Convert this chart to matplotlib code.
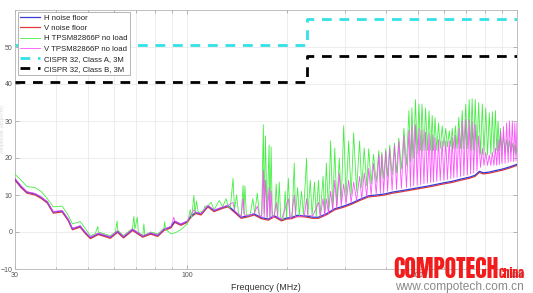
import matplotlib
matplotlib.use("Agg")
import matplotlib.pyplot as plt
from matplotlib.ticker import FixedLocator, FixedFormatter, NullFormatter

# ---------------- data (MHz, dBuV/m) ----------------
h_floor_f = [30, 31.3, 32.6, 34.5, 36, 37.6, 39.2, 41.7, 43.5, 44.8, 47.3, 49, 50.8, 53.7, 56, 58.4,
             61.4, 64, 68.2, 73.2, 77.4, 81.3, 84.9, 89.1, 91.5, 95.5, 100, 102.5, 106, 110, 115.5,
             120.5, 128, 133, 138.6, 145.6, 153, 159.5, 167.5, 176, 183.5, 193, 200, 207, 215, 226.5,
             240, 250, 265, 280, 298, 315, 333, 355, 375, 397, 420, 448, 475, 504, 535, 564, 600,
             636, 675, 716, 745, 769, 790, 824, 860, 903, 950, 1000]
h_floor_db = [14.3, 12.3, 10.8, 10.3, 9.4, 8.1, 5.4, 5.7, 3.4, 0.9, 1.6, -0.1, -1.5, -0.4, -0.9, -1.4,
              0.2, -1.3, 0.7, -1.1, -0.3, -0.9, 0.7, 1.4, 2.9, 2.1, 2.9, 4.3, 5.3, 4.9, 7.1,
              5.8, 6.7, 7.1, 5.7, 4.0, 4.4, 4.9, 3.9, 3.5, 4.4, 3.3, 3.8, 3.9, 4.5, 4.4,
              4.0, 4.0, 5.0, 6.3, 7.0, 7.8, 8.8, 9.8, 10.0, 10.3, 10.8, 11.2, 11.6, 12.0, 12.4, 12.8, 13.3,
              13.7, 14.3, 14.8, 15.3, 16.4, 16.0, 16.2, 16.6, 17.0, 17.6, 18.3]

v_floor_f = [30, 31.3, 32.6, 34.5, 36, 37.6, 39.2, 41.7, 43.5, 44.8, 47.3, 49, 50.8, 53.7, 56, 58.4,
             61.4, 64, 68.2, 73.2, 77.4, 81.3, 84.9, 89.1, 91.5, 95.5, 100, 102.5, 106, 110, 115.5,
             120.5, 128, 133, 138.6, 145.6, 153, 159.5, 167.5, 176, 183.5, 193, 200, 207, 215, 226.5,
             240, 250, 265, 280, 298, 315, 333, 355, 375, 397, 420, 448, 475, 504, 535, 564, 600,
             636, 675, 716, 745, 769, 790, 824, 860, 903, 950, 1000]
v_floor_db = [14.0, 12.0, 10.5, 10.0, 9.1, 7.8, 5.1, 5.4, 3.1, 0.6, 1.3, -0.4, -1.8, -0.7, -1.2, -1.7,
              -0.1, -1.6, 0.4, -1.4, -0.6, -1.2, 0.4, 1.1, 2.6, 1.8, 2.6, 4.0, 5.0, 4.6, 6.8,
              5.5, 6.4, 6.8, 5.4, 3.7, 4.1, 4.6, 3.6, 3.2, 4.1, 3.0, 3.5, 3.6, 4.2, 4.1,
              3.7, 3.7, 4.7, 6.0, 6.7, 7.5, 8.5, 9.5, 9.7, 10.0, 10.5, 10.9, 11.3, 11.7, 12.1, 12.5, 13.0,
              13.4, 14.0, 14.5, 15.0, 16.1, 15.7, 15.9, 16.3, 16.7, 17.3, 18.0]

h_load_f = [30, 31.3, 32.6, 34.5, 36, 37.6, 39.2, 41.7, 43.5, 44.8, 47.3, 49, 50.8, 52.5, 53.5, 53.7,
            56, 58.4, 60.5, 61.2, 61.5, 64, 66, 68.2, 68.8, 69.3, 70.5, 71, 73.2, 73.8, 74.3, 77.4,
            81.3, 84.9, 85.4, 85.8, 89.1, 92, 95.5, 98,
            100, 102, 103, 104.7, 105.5, 106.5, 108, 112, 113, 115.5, 118, 120.5, 125, 128, 131, 133,
            135, 137.6, 139, 141, 143, 145.6, 147.6, 148.3, 149.5, 151, 155, 158, 160, 163, 165.5,
            168, 170, 171, 172.5, 174.5, 177, 178, 179.5, 181, 184, 186, 188, 190, 192, 196, 198,
            200, 202.5, 205, 208, 211, 213, 216, 218.5, 222, 225, 230, 232, 236, 239, 243, 246,
            250, 253, 258, 261, 264, 268, 272, 276, 280, 284, 289, 293, 298, 303, 308.5, 314,
            319.5, 326, 333, 338, 344, 350, 355, 361, 367, 374, 381, 385, 389, 394, 400, 405,
            411, 418, 425, 431, 438, 446, 454, 462, 470, 475, 480, 486, 492, 498, 504, 510,
            515, 522, 528, 535, 541, 547, 553, 558, 564, 571, 578, 585, 593, 600, 608, 615,
            623, 630, 636, 643, 650, 658, 666, 674, 682, 690, 699, 707, 716, 723, 731, 739,
            747, 756, 765, 775, 785, 794, 804, 814, 824, 833, 842, 851, 860, 868, 876, 884,
            891, 900, 910, 920, 930, 940, 949, 958, 968, 977, 985, 993, 1000]
h_load_db = [15.6, 14.0, 12.3, 12.0, 11.0, 9.0, 6.8, 7.0, 4.5, 2.2, 2.8, 1.0, -1.0, -0.5, 1.5, 0.0,
             -0.5, -1.0, 0.0, 3.0, 0.5, -1.0, 0.0, 1.0, 4.2, 0.8, 4.0, 0.0, -1.0, 2.2, -0.8, 0.0,
             -0.5, 1.0, 2.8, 0.8, -0.5, -0.2, 0.6, 1.5,
             2.2, 6.0, 3.8, 9.9, 5.0, 8.4, 5.2, 5.8, 7.0, 7.0, 8.0, 6.0, 8.5, 6.8, 9.0, 7.0,
             6.5, 14.5, 6.0, 10.0, 5.0, 4.3, 12.6, 5.0, 12.4, 4.6, 4.6, 9.0, 5.0, 10.5, 4.5,
             4.3, 29.0, 5.0, 26.0, 4.0, 23.5, 4.0, 23.0, 4.3, 4.5, 13.0, 4.0, 13.5, 3.5, 3.5, 11.0,
             4.0, 14.5, 4.0, 4.2, 18.6, 4.3, 12.0, 4.4, 11.0, 4.5, 20.0, 4.5, 14.0, 4.3, 13.5, 4.2,
             14.0, 4.5, 15.0, 5.2, 18.6, 5.6, 24.6, 6.2, 22.7, 7.0, 20.0, 8.0, 28.7, 9.0, 24.6, 10.0,
             26.8, 11.0, 24.6, 12.0, 22.7, 12.5, 22.5, 13.0, 21.0, 13.5, 22.0, 14.0, 21.5, 14.5, 22.5, 15.0,
             23.5, 15.5, 24.0, 16.0, 25.4, 17.0, 28.0, 18.0, 32.8, 19.0, 33.6, 20.0, 35.8, 21.0, 34.6, 22.0,
             34.6, 22.0, 33.5, 22.0, 32.8, 22.0, 31.5, 22.0, 30.9, 22.0, 29.5, 22.5, 28.7, 23.0, 28.0, 23.0,
             27.3, 23.0, 28.0, 22.5, 28.7, 22.5, 31.0, 22.5, 32.8, 22.5, 34.5, 22.5, 35.8, 22.0, 36.0, 22.0,
             35.8, 21.5, 35.0, 21.0, 34.6, 20.8, 33.5, 20.8, 32.2, 21.0, 32.5, 21.5, 32.8, 22.0, 30.0, 22.0,
             28.0, 22.0, 26.0, 21.5, 25.0, 21.5, 24.6, 21.5, 24.0, 21.0, 23.5, 21.0, 23.0]

v_load_f = [30, 31.3, 32.6, 34.5, 36, 37.6, 39.2, 41.7, 43.5, 44.8, 47.3, 49, 50.8, 53.7, 56, 58.4,
            61.4, 64, 68.2, 73.2, 77.4, 81.3, 84.9, 89.1, 91, 91.5, 95.5,
            100, 104.7, 106, 110, 115.5, 120.5, 128, 133, 137.6, 139, 145.6, 147.6, 149, 153, 159.5,
            163, 165.5, 168, 170, 171, 172.5, 174.5, 177, 178, 179.5, 181, 183.5, 186, 188, 193,
            202.5, 205, 207, 211, 213, 222, 226.5, 230, 232, 240, 250, 253, 258, 261, 264, 268,
            272, 276, 280, 284, 289, 293, 298, 303, 308.5, 314, 319.5, 326, 333, 338, 344, 350,
            355, 361, 367, 374, 381, 385, 389, 394, 400, 405, 411, 418, 425, 431, 438, 446,
            454, 462, 470, 475, 480, 486, 492, 498, 504, 510, 515, 522, 528, 535, 541, 547,
            553, 558, 564, 571, 578, 585, 593, 600, 608, 615, 623, 630, 636, 643, 650, 658,
            666, 674, 682, 690, 699, 707, 716, 723, 731, 739, 747, 756, 765, 775, 785, 794,
            804, 814, 824, 833, 842, 851, 860, 868, 876, 884, 891, 900, 910, 920, 930, 940,
            949, 958, 968, 977, 985, 993, 1000]
v_load_db = [14.5, 12.5, 10.9, 10.4, 9.5, 8.2, 5.5, 5.8, 3.5, 1.0, 1.7, 0.0, -1.4, -0.3, -0.8, -1.3,
             0.3, -1.2, 0.8, -1.0, -0.2, -0.8, 0.8, 1.5, 4.0, 3.0, 2.2,
             3.0, 6.0, 5.4, 5.0, 7.2, 5.9, 6.8, 7.2, 8.0, 5.8, 4.1, 9.0, 4.5, 4.5, 5.0,
             7.0, 4.3, 4.0, 16.7, 4.0, 14.0, 3.8, 12.0, 3.6, 11.0, 3.8, 4.5, 8.0, 4.0, 3.4,
             9.0, 3.6, 4.0, 10.0, 4.0, 4.3, 4.5, 9.0, 4.5, 4.3, 8.0, 4.1, 9.0, 4.5, 9.0, 5.0,
             11.0, 5.8, 14.0, 6.5, 15.8, 7.0, 13.0, 7.5, 14.0, 8.0, 13.5, 8.5, 15.0, 9.0, 16.0, 9.5,
             17.2, 10.0, 18.5, 10.3, 20.8, 10.5, 21.0, 10.6, 21.8, 11.0, 22.5, 11.3, 23.5, 11.5, 24.6, 11.8,
             26.0, 12.0, 27.5, 12.2, 28.5, 12.5, 29.0, 12.6, 28.0, 12.8, 27.6, 13.0, 27.0, 13.2, 26.6, 13.4,
             26.2, 13.5, 25.5, 13.7, 25.0, 13.9, 24.6, 14.0, 24.6, 14.2, 24.6, 14.4, 25.5, 14.6, 26.2, 14.8,
             28.0, 15.0, 30.0, 15.2, 30.4, 15.4, 30.4, 15.7, 29.8, 16.0, 29.0, 16.5, 26.0, 17.5, 22.7, 18.0,
             21.5, 18.0, 20.8, 18.0, 21.5, 18.0, 22.7, 18.0, 25.0, 18.2, 27.3, 18.5, 28.5, 18.6, 29.5, 18.8,
             30.0, 19.0, 30.0, 19.0, 29.5, 19.2, 29.5]

limit_f = [30, 230, 230, 1000]
class_a_db = [50.5, 50.5, 57.5, 57.5]
class_b_db = [40.5, 40.5, 47.5, 47.5]

x_major = [30, 100, 500, 1000]
x_major_labels = ["30", "100", "500", "1000"]
x_minor = [40, 50, 60, 70, 80, 90, 200, 300, 400, 600, 700, 800, 900]
y_ticks = [-10, 0, 10, 20, 30, 40, 50]

legend_labels = ["H noise floor", "V noise floor", "H TPSM82866P no load",
                 "V TPSM82866P no load", "CISPR 32, Class A, 3M", "CISPR 32, Class B, 3M"]

# ---------------- figure ----------------
plt.rcParams['font.family'] = ['Liberation Sans', 'DejaVu Sans']
fig = plt.figure(figsize=(5.33, 2.93), dpi=100)
ax = fig.add_axes([15 / 533, 24 / 293, 502 / 533, 259 / 293])

l1, = ax.plot(h_floor_f, h_floor_db, color='#3b3bd6', lw=0.9, zorder=3)
l2, = ax.plot(v_floor_f, v_floor_db, color='#e23a3a', lw=0.9, zorder=2.9)
l3, = ax.plot(h_load_f, h_load_db, color='#44ee44', lw=0.6, zorder=3.1)
l4, = ax.plot(v_load_f, v_load_db, color='#ff44ff', lw=0.6, alpha=0.92, zorder=3.2)
l5, = ax.plot(limit_f, class_a_db, color='#33e0e8', lw=2.0, ls=(0, (3.5, 2.8)), zorder=4)
l6, = ax.plot(limit_f, class_b_db, color='black', lw=2.0, ls=(0, (3.5, 2.8)), zorder=4)

ax.set_xscale('log')
ax.set_xlim(30, 1000)
ax.set_ylim(-10, 60)
ax.xaxis.set_major_locator(FixedLocator(x_major))
ax.xaxis.set_major_formatter(FixedFormatter(x_major_labels))
ax.xaxis.set_minor_locator(FixedLocator(x_minor))
ax.xaxis.set_minor_formatter(NullFormatter())
ax.set_yticks(y_ticks)
ax.grid(True, which='both', axis='x', color='#e6e6e6', lw=0.5, zorder=0)
ax.grid(True, which='major', axis='y', color='#e6e6e6', lw=0.5, zorder=0)
ax.tick_params(which='both', direction='in', top=True, right=True, color='#9a9a9a',
               labelsize=5, labelcolor='#555555', pad=2)
ax.tick_params(which='major', length=3, width=0.5)
ax.tick_params(which='minor', length=1.8, width=0.5)
for s in ax.spines.values():
    s.set_color('#b5b5b5')
    s.set_linewidth(0.6)

ax.set_xlabel('Frequency (MHz)', fontsize=6.5, color='#333333', labelpad=3)
fig.text(0.0, 0.56, 'Amplitude (dB\u00b5V/m)', rotation=90, fontsize=3.8, color='#d8d8d8',
         ha='left', va='center')

leg = ax.legend([l1, l2, l3, l4, l5, l6], legend_labels, loc='upper left',
                bbox_to_anchor=(0.002, 0.998), fontsize=5.6, frameon=True, fancybox=False,
                edgecolor='#a8a8a8', framealpha=1, borderpad=0.3, labelspacing=0.36,
                handlelength=2.6, handletextpad=0.5, borderaxespad=0.2)
leg.get_frame().set_linewidth(0.6)
for t in leg.get_texts():
    t.set_color('#222222')

# watermark
wm_font = ['Anton', 'Oswald', 'Barlow Condensed', 'DejaVu Sans']
fig.text(393 / 533, 1 - 278 / 293, 'COMPOTECH', fontsize=17, fontweight='heavy', color='#f21c1c',
         family=wm_font, ha='left', va='baseline', zorder=10)
fig.text(499 / 533, 1 - 278 / 293, 'China', fontsize=8.5, fontweight='heavy', color='#f21c1c',
         family=wm_font, ha='left', va='baseline', zorder=10)
fig.text(395 / 533, 1 - 290 / 293, 'www.compotech.com.cn', fontsize=8.6, color='#8a8a8a',
         ha='left', va='baseline', zorder=10)

fig.savefig('out.png', dpi=100)
